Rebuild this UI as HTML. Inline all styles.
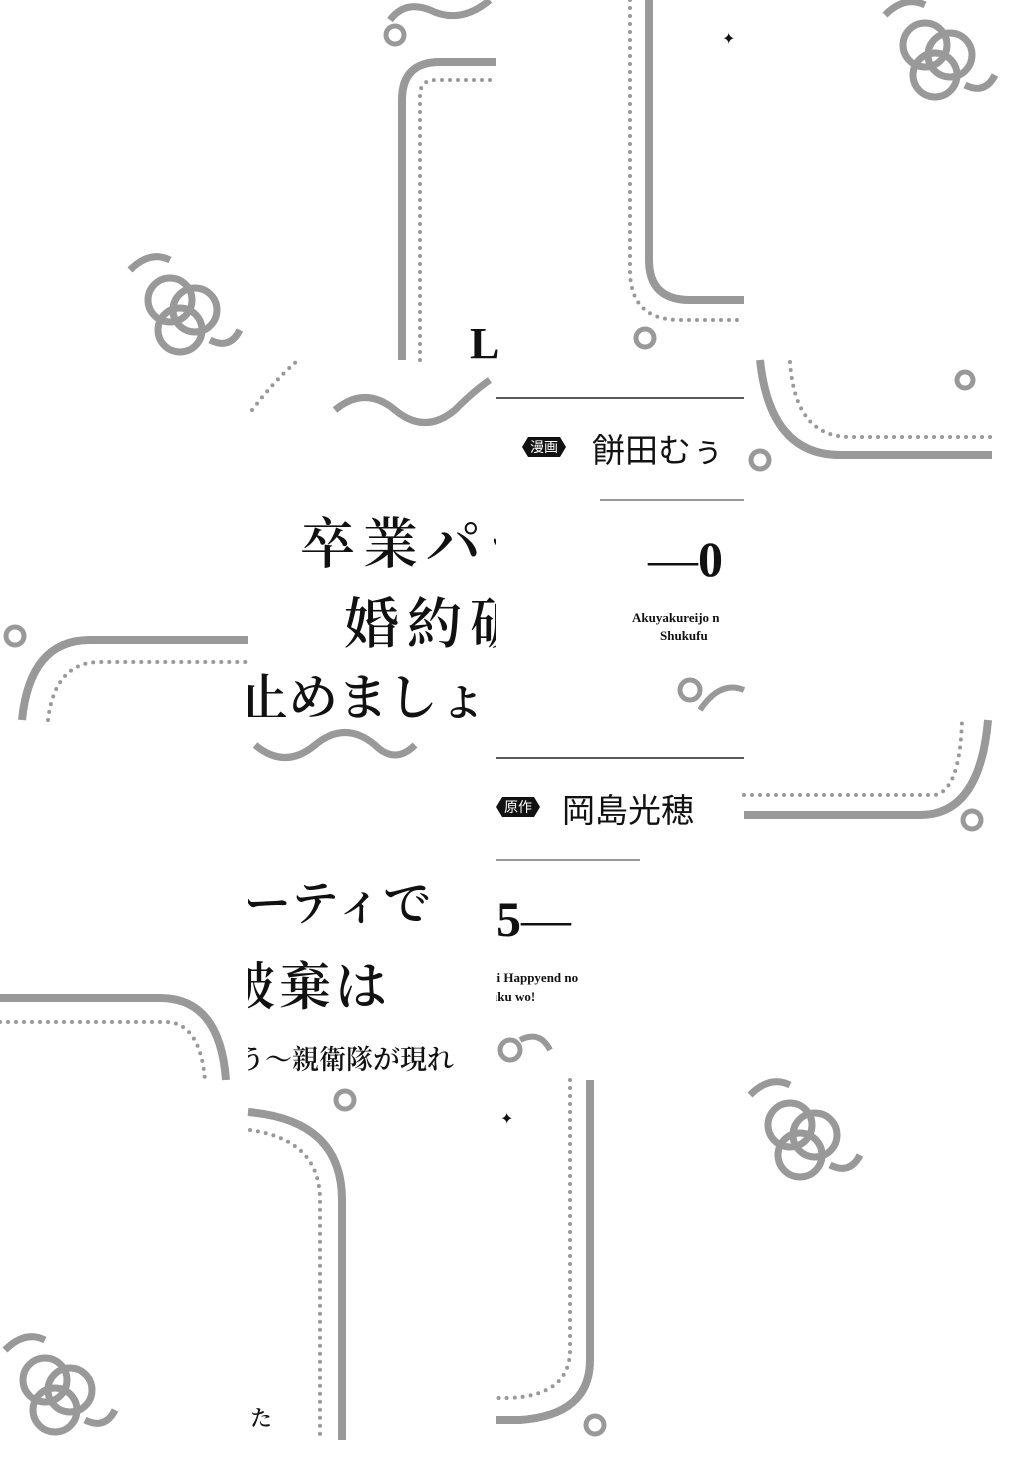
<!DOCTYPE html>
<html><head><meta charset="utf-8">
<style>
html,body{margin:0;padding:0;background:#fff;}
body{width:1016px;height:1457px;overflow:hidden;position:relative;}
svg{position:absolute;left:0;top:0;}
.t{position:absolute;white-space:nowrap;color:#111;font-family:"Liberation Serif","Noto Serif CJK SC",serif;font-weight:bold;}
.m{font-family:"Liberation Serif","Noto Serif CJK SC",serif;font-weight:600;}
.s{font-family:"Liberation Sans","Noto Sans CJK JP",sans-serif;}
.badge{position:absolute;background:#111;color:#fff;font-family:"Liberation Sans","Noto Sans CJK JP",sans-serif;font-size:14px;line-height:20px;padding:0 8px;clip-path:polygon(6px 0,calc(100% - 6px) 0,100% 50%,calc(100% - 6px) 100%,6px 100%,0 50%);}
.clip{position:absolute;overflow:hidden;}
</style></head><body>
<svg width="1016" height="1457" viewBox="0 0 1016 1457">
<defs>
<g id="orn" fill="none" stroke="#999" stroke-width="7">
<circle cx="0" cy="0" r="22"/><circle cx="25" cy="10" r="22"/><circle cx="10" cy="30" r="22"/>
<path d="M-40 -30 q20 -20 40 -10"/><path d="M40 40 q20 10 30 -10"/>
</g>
</defs>
<g fill="none" stroke="#999">
<path d="M402 360 V100 Q402 62 440 62 H496" stroke-width="8"/>
<path d="M420 360 V95 Q420 80 436 80 H496" stroke-width="4" stroke-dasharray="0 8" stroke-linecap="round"/>
<path d="M649 0 V260 Q649 300 690 300 H744" stroke-width="8"/>
<path d="M630 0 V270 Q630 320 680 320 H744" stroke-width="4" stroke-dasharray="0 8" stroke-linecap="round"/>
<path d="M22 720 Q30 640 90 640 H248" stroke-width="8"/>
<path d="M48 720 Q55 662 100 662 H248" stroke-width="4" stroke-dasharray="0 8" stroke-linecap="round"/>
<path d="M252 410 Q275 380 296 362" stroke-width="4" stroke-dasharray="0 8" stroke-linecap="round"/>
<path d="M760 360 Q770 455 840 455 H992" stroke-width="8"/>
<path d="M790 362 Q795 437 850 437 H992" stroke-width="4" stroke-dasharray="0 8" stroke-linecap="round"/>
<path d="M0 998 H160 Q220 998 226 1080" stroke-width="8"/>
<path d="M0 1022 H165 Q200 1022 205 1080" stroke-width="4" stroke-dasharray="0 8" stroke-linecap="round"/>
<path d="M744 815 H920 Q980 815 988 720" stroke-width="8"/>
<path d="M744 795 H935 Q960 790 962 720" stroke-width="4" stroke-dasharray="0 8" stroke-linecap="round"/>
<path d="M248 1112 Q342 1120 342 1200 V1440" stroke-width="8"/>
<path d="M250 1130 Q320 1140 320 1200 V1440" stroke-width="4" stroke-dasharray="0 8" stroke-linecap="round"/>
<path d="M590 1080 V1360 Q590 1415 520 1420 H496" stroke-width="8"/>
<path d="M570 1080 V1350 Q570 1395 510 1398 H496" stroke-width="4" stroke-dasharray="0 8" stroke-linecap="round"/>
<use href="#orn" x="170" y="300"/>
<use href="#orn" x="925" y="45"/>
<use href="#orn" x="790" y="1125"/>
<use href="#orn" x="45" y="1380"/>
<path d="M335 410 q30 -25 60 0 q30 25 60 0 q20 -20 35 -30" stroke-width="7"/>
<path d="M255 745 q30 25 60 0 q30 -25 60 0 q20 20 40 0" stroke-width="7"/>
<path d="M390 20 q15 -20 40 -10 q30 15 60 -10" stroke-width="7"/>
<circle cx="395" cy="35" r="9" stroke-width="5"/>
<circle cx="15" cy="636" r="9" stroke-width="5"/>
<circle cx="760" cy="460" r="9" stroke-width="5"/>
<circle cx="972" cy="820" r="9" stroke-width="5"/>
<circle cx="595" cy="1425" r="9" stroke-width="5"/>
<circle cx="645" cy="338" r="9" stroke-width="5"/>
<circle cx="345" cy="1100" r="9" stroke-width="5"/>
<circle cx="690" cy="690" r="10" stroke-width="5"/>
<path d="M700 710 q20 -30 44 -20" stroke-width="6"/>
<circle cx="510" cy="1050" r="10" stroke-width="5"/>
<path d="M520 1040 q20 -10 30 10" stroke-width="6"/>
<circle cx="965" cy="380" r="8" stroke-width="5"/>
<path d="M600 500 H744" stroke-width="2"/>
<path d="M496 860 H640" stroke-width="2"/>
</g>
<g stroke="#222" stroke-width="1.5">
<line x1="496" y1="398" x2="744" y2="398"/>
<line x1="496" y1="758" x2="744" y2="758"/>
</g>
<g fill="#111" font-size="16">
<text x="722" y="44">✦</text>
<text x="500" y="1124">✦</text>
</g>
</svg>
<div class="t" style="left:470px;top:318px;font-size:44px;">L</div>
<div class="clip" style="left:248px;top:360px;width:248px;height:360px;">
<div class="t m" style="left:52px;top:140px;font-size:55px;letter-spacing:8px;">卒業パー</div>
<div class="t m" style="left:96px;top:220px;font-size:55px;letter-spacing:8px;">婚約破</div>
<div class="t m" style="left:-10px;top:298px;font-size:50px;">止めましょう</div>
</div>
<div class="clip" style="left:496px;top:360px;width:248px;height:360px;">
<div class="badge" style="left:26px;top:77px;">漫画</div>
<div class="t s" style="left:96px;top:64px;font-size:33px;font-weight:normal;">餅田むぅ</div>
<div class="t" style="left:152px;top:170px;font-size:50px;"><span style="font-weight:normal">—</span>0</div>
<div class="t" style="left:136px;top:250px;font-size:13px;">Akuyakureijo n</div>
<div class="t" style="left:164px;top:268px;font-size:13px;">Shukufu</div>
</div>
<div class="clip" style="left:248px;top:720px;width:248px;height:360px;">
<div class="t m" style="left:-5px;top:145px;font-size:48px;">ーティで</div>
<div class="t m" style="left:-25px;top:225px;font-size:52px;letter-spacing:4px;">破棄は</div>
<div class="t m" style="left:-10px;top:318px;font-size:27px;">う～親衛隊が現れ</div>
</div>
<div class="clip" style="left:496px;top:720px;width:248px;height:360px;">
<div class="badge" style="left:0px;top:77px;">原作</div>
<div class="t s" style="left:66px;top:64px;font-size:33px;font-weight:normal;">岡島光穂</div>
<div class="t" style="left:0px;top:170px;font-size:50px;">5<span style="font-weight:normal">—</span></div>
<div class="t" style="left:-6px;top:250px;font-size:13px;">ai Happyend no</div>
<div class="t" style="left:-6px;top:269px;font-size:13px;">uku wo!</div>
</div>
<div class="t m" style="left:250px;top:1402px;font-size:22px;">た</div>
</body></html>
